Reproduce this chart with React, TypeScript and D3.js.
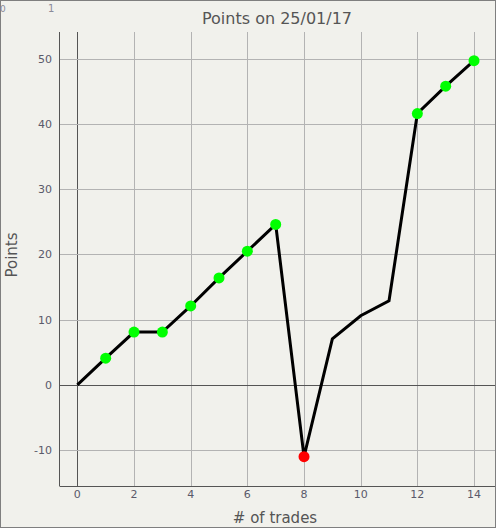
import React from "react";
import * as d3 from "d3";

const trades = [0, 1, 2, 3, 4, 5, 6, 7, 8, 9, 10, 11, 12, 13, 14];
const points = [0, 4.1, 8.1, 8.1, 12.1, 16.4, 20.5, 24.6, -11, 7.05, 10.6, 12.9, 41.6, 45.8, 49.7];
const markerColors = ["none", "#00ff00", "#00ff00", "#00ff00", "#00ff00", "#00ff00", "#00ff00", "#00ff00", "#ff0000", "none", "none", "none", "#00ff00", "#00ff00", "#00ff00"];
const xTicks = [0, 2, 4, 6, 8, 10, 12, 14];
const yTicks = [-10, 0, 10, 20, 30, 40, 50];
const title = "Points on 25/01/17";
const xLabel = "# of trades";
const yLabel = "Points";

const W = 496;
const H = 528;
const left = 59.5;
const right = 495;
const top = 32;
const bottom = 486;
const FONT = "DejaVu Sans, Verdana, sans-serif";

export default function App() {
  const x = d3.scaleLinear().domain([-0.63, 14.74]).range([left, right]);
  const y = d3.scaleLinear().domain([-15.5, 54.1]).range([bottom, top]);
  const line = d3
    .line<number>()
    .x((_, i) => x(trades[i]))
    .y((d) => y(d));
  return (
    <div style={{ position: "absolute", left: 0, top: 0 }}>
      <svg width={W} height={H} style={{ display: "block" }}>
        <rect x={0} y={0} width={W} height={H} fill="#f1f1ec" />
        <rect x={0.5} y={0.5} width={495} height={527} fill="none" stroke="#7f7f7f" strokeWidth={1} />
        <text x={0} y={12} fontFamily={FONT} fontSize={9} fill="#8a8a9a">0</text>
        <text x={48} y={12} fontFamily={FONT} fontSize={10} fill="#8a8a9a">1</text>
        <text x={277} y={24} textAnchor="middle" fontFamily={FONT} fontSize={16} fill="#555">{title}</text>
        <g>
          {xTicks.map((t) => (
            <line key={"vx" + t} x1={Math.round(x(t)) + 0.5} x2={Math.round(x(t)) + 0.5} y1={top} y2={bottom}
              stroke={t === 0 ? "#555" : "#b3b3b3"} strokeWidth={1} />
          ))}
          {yTicks.map((t) => (
            <line key={"hy" + t} x1={left} x2={right} y1={Math.round(y(t)) + 0.5} y2={Math.round(y(t)) + 0.5}
              stroke={t === 0 ? "#555" : "#b3b3b3"} strokeWidth={1} />
          ))}
          <line x1={left} x2={left} y1={top} y2={bottom} stroke="#555" />
          <line x1={left} x2={right} y1={bottom + 0.5} y2={bottom + 0.5} stroke="#555" />
        </g>
        {xTicks.map((t) => (
          <text key={"xt" + t} x={x(t)} y={498} textAnchor="middle" fontFamily={FONT} fontSize={11} fill="#5a5a6a">{t}</text>
        ))}
        {yTicks.map((t) => (
          <text key={"yt" + t} x={52} y={y(t) + 4} textAnchor="end" fontFamily={FONT} fontSize={11} fill="#5a5a6a">{t}</text>
        ))}
        <text x={275} y={523} textAnchor="middle" fontFamily={FONT} fontSize={15} fill="#555">{xLabel}</text>
        <text transform={`translate(17,255) rotate(-90)`} textAnchor="middle" fontFamily={FONT} fontSize={15} fill="#555">{yLabel}</text>
        <path d={line(points) || ""} fill="none" stroke="#000" strokeWidth={3} strokeLinejoin="miter" />
        {points.map((p, i) =>
          markerColors[i] === "none" ? null : (
            <circle key={"m" + i} cx={x(trades[i])} cy={y(p)} r={5.5} fill={markerColors[i]} />
          )
        )}
      </svg>
    </div>
  );
}
